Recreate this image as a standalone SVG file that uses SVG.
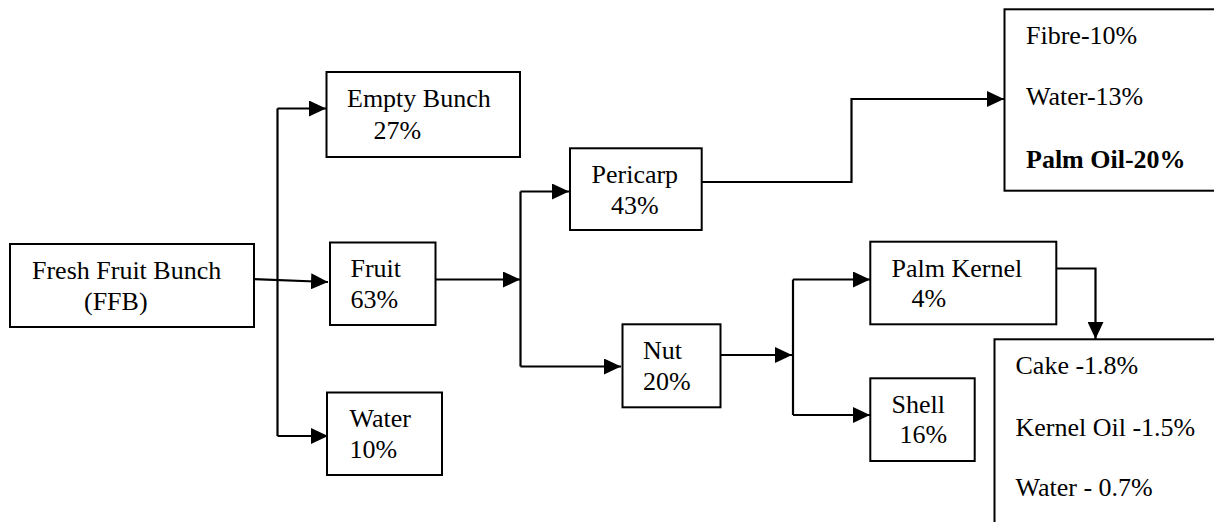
<svg xmlns="http://www.w3.org/2000/svg" width="1214" height="522" viewBox="0 0 1214 522">
<style>
.box{fill:#fff;stroke:#000;stroke-width:2}
.t{font-family:"Liberation Serif","Times New Roman",serif;font-size:26px;fill:#000}
.b{font-weight:bold}
.c{fill:none;stroke:#000;stroke-width:2.2}
.a{marker-end:url(#arr)}
</style>
<defs>
<marker id="arr" markerUnits="userSpaceOnUse" markerWidth="17" markerHeight="16" refX="17" refY="8" orient="auto">
<path d="M0,0 L17,8 L0,16 Z" fill="#000"/>
</marker>
</defs>
<rect width="1214" height="522" fill="#fff"/>
<g id="connectors">
<path class="c a" d="M252,279 L328,282"/>
<path class="c" d="M277.5,108.5 V436"/>
<path class="c a" d="M277.5,108.5 H326"/>
<path class="c a" d="M277.5,436 H328"/>
<path class="c a" d="M434,279.5 H520"/>
<path class="c" d="M520.5,191.5 V366.5"/>
<path class="c a" d="M520.5,191.5 H569"/>
<path class="c a" d="M520.5,366.5 H621"/>
<path class="c a" d="M700,182 H851.5 V99 H1004"/>
<path class="c a" d="M720,355 H792"/>
<path class="c" d="M793,279.5 V415"/>
<path class="c a" d="M793,279.5 H870"/>
<path class="c a" d="M793,415 H870"/>
<path class="c a" d="M1056,268.5 H1095.5 V339"/>
</g>
<g id="ffb">
<rect class="box" x="10" y="244" width="244" height="83"/>
<text class="t" x="32" y="279">Fresh Fruit Bunch</text>
<text class="t" x="84" y="310">(FFB)</text>
</g>
<g id="empty-bunch">
<rect class="box" x="326.5" y="72" width="193.5" height="85"/>
<text class="t" x="347" y="107">Empty Bunch</text>
<text class="t" x="373.5" y="138.5">27%</text>
</g>
<g id="fruit">
<rect class="box" x="330" y="242.5" width="105.5" height="82.5"/>
<text class="t" x="350.5" y="277">Fruit</text>
<text class="t" x="350.5" y="307.5">63%</text>
</g>
<g id="water">
<rect class="box" x="327" y="392.5" width="115" height="82.5"/>
<text class="t" x="349.5" y="427">Water</text>
<text class="t" x="349.5" y="458">10%</text>
</g>
<g id="pericarp">
<rect class="box" x="570" y="148.3" width="131.7" height="81.7"/>
<text class="t" x="591.5" y="183">Pericarp</text>
<text class="t" x="611" y="213.5">43%</text>
</g>
<g id="pericarp-products">
<rect class="box" x="1004.5" y="9.3" width="230" height="181.4"/>
<text class="t" x="1026" y="43.5">Fibre-10%</text>
<text class="t" x="1026" y="104.5">Water-13%</text>
<text class="t b" x="1026" y="167.5">Palm Oil-20%</text>
</g>
<g id="nut">
<rect class="box" x="622.5" y="324.3" width="98" height="83"/>
<text class="t" x="643" y="358.5">Nut</text>
<text class="t" x="643" y="390">20%</text>
</g>
<g id="palm-kernel">
<rect class="box" x="870.3" y="241.7" width="186" height="82.6"/>
<text class="t" x="891.5" y="276.7">Palm Kernel</text>
<text class="t" x="911.5" y="306.7">4%</text>
</g>
<g id="shell">
<rect class="box" x="870.3" y="378.3" width="104.4" height="82.7"/>
<text class="t" x="891.5" y="412.7">Shell</text>
<text class="t" x="899.5" y="443.3">16%</text>
</g>
<g id="kernel-products">
<rect class="box" x="994.5" y="339.3" width="240" height="200"/>
<text class="t" x="1015.5" y="374.3">Cake -1.8%</text>
<text class="t" x="1015.5" y="435.5">Kernel Oil -1.5%</text>
<text class="t" x="1015.5" y="496">Water - 0.7%</text>
</g>
</svg>
